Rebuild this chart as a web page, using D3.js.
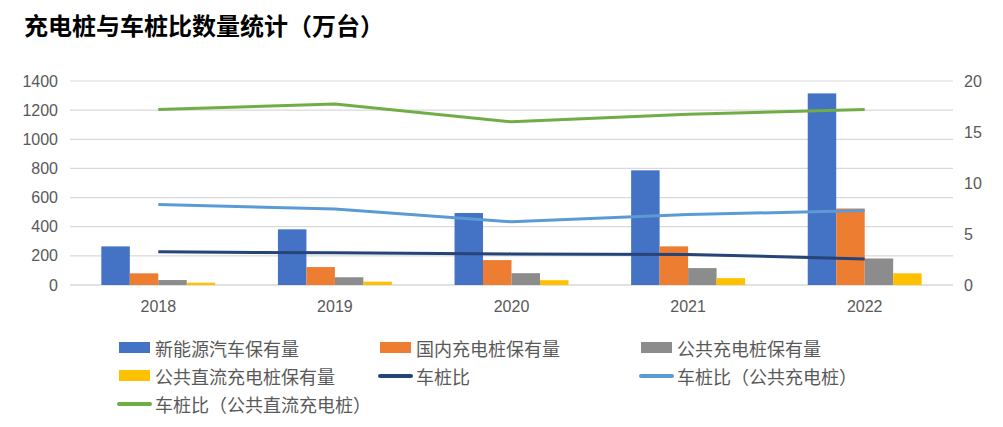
<!DOCTYPE html>
<html><head><meta charset="utf-8">
<script src="https://cdn.jsdelivr.net/npm/d3@7"></script>
<style>
html,body{margin:0;padding:0;background:#fff;}
svg{display:block;}
</style></head>
<body>
<svg id="chart" width="1003" height="427"></svg>
<script>
// ---- data ----
const years = ["2018", "2019", "2020", "2021", "2022"];
const nevStock = [265, 382, 494, 787, 1315];
const domesticPiles = [80, 123, 171, 265, 525];
const publicPiles = [34, 53, 81, 116, 182];
const publicDCPiles = [16, 23, 33, 47, 80];
const ratioAll = [3.25, 3.15, 3.05, 3.0, 2.55];
const ratioPublic = [7.9, 7.45, 6.2, 6.9, 7.3];
const ratioPublicDC = [17.2, 17.75, 16.0, 16.75, 17.2];
const leftTicks = [0, 200, 400, 600, 800, 1000, 1200, 1400];
const rightTicks = [0, 5, 10, 15, 20];
const title = "充电桩与车桩比数量统计（万台）";

const barSeries = [
  {name: "新能源汽车保有量", values: nevStock, color: "#4472C4"},
  {name: "国内充电桩保有量", values: domesticPiles, color: "#ED7D31"},
  {name: "公共充电桩保有量", values: publicPiles, color: "#8C8C8C"},
  {name: "公共直流充电桩保有量", values: publicDCPiles, color: "#FFC000"}
];
const lineSeries = [
  {name: "车桩比", values: ratioAll, color: "#264478"},
  {name: "车桩比（公共充电桩）", values: ratioPublic, color: "#5B9BD5"},
  {name: "车桩比（公共直流充电桩）", values: ratioPublicDC, color: "#70AD47"}
];

const svg = d3.select("#chart");
const cjk = "'Noto Sans CJK SC', 'Noto Sans', sans-serif";
const num = "'Liberation Sans', Arial, sans-serif";
const plot = {left: 70, right: 953, top: 81, bottom: 285};

const x0 = d3.scaleBand().domain(years).range([plot.left, plot.right]).paddingInner(0).paddingOuter(0);
const x1 = d3.scaleBand().domain(barSeries.map(d => d.name)).range([0, x0.bandwidth()]).paddingInner(0).paddingOuter(1.1);
const yL = d3.scaleLinear().domain([0, 1400]).range([plot.bottom, plot.top]);
const yR = d3.scaleLinear().domain([0, 20]).range([plot.bottom, plot.top]);

// title
svg.append("text").attr("x", 24).attr("y", 35)
  .attr("font-family", cjk).attr("font-weight", "bold").attr("font-size", 24)
  .attr("fill", "#000").text(title);

// gridlines
svg.append("g").selectAll("line").data(leftTicks).join("line")
  .attr("x1", plot.left).attr("x2", plot.right)
  .attr("y1", d => yL(d)).attr("y2", d => yL(d))
  .attr("stroke", "#d9d9d9").attr("stroke-width", d => d === 0 ? 1.5 : 1.2);

// left axis
const axL = d3.axisLeft(yL).tickValues(leftTicks).tickFormat(d3.format("d")).tickSize(0).tickPadding(12);
const gL = svg.append("g").attr("transform", `translate(${plot.left},0)`).call(axL);
gL.select(".domain").remove();
gL.selectAll("text").attr("font-family", num).attr("font-size", 16).attr("fill", "#595959");

// right axis
const axR = d3.axisRight(yR).tickValues(rightTicks).tickFormat(d3.format("d")).tickSize(0).tickPadding(11);
const gR = svg.append("g").attr("transform", `translate(${plot.right},0)`).call(axR);
gR.select(".domain").remove();
gR.selectAll("text").attr("font-family", num).attr("font-size", 16).attr("fill", "#595959");

// x axis
const axB = d3.axisBottom(x0).tickSize(0).tickPadding(16);
const gB = svg.append("g").attr("transform", `translate(0,${plot.bottom})`).call(axB);
gB.select(".domain").remove();
gB.selectAll("text").attr("font-family", num).attr("font-size", 16).attr("fill", "#595959");

// bars
const barG = svg.append("g");
barSeries.forEach(s => {
  barG.append("g").selectAll("rect").data(s.values).join("rect")
    .attr("x", (d, i) => x0(years[i]) + x1(s.name))
    .attr("width", x1.bandwidth())
    .attr("y", d => yL(d))
    .attr("height", d => yL(0) - yL(d))
    .attr("fill", s.color);
});

// lines
const lineGen = d3.line()
  .x((d, i) => x0(years[i]) + x0.bandwidth() / 2)
  .y(d => yR(d));
lineSeries.forEach(s => {
  svg.append("path").datum(s.values)
    .attr("d", lineGen).attr("fill", "none")
    .attr("stroke", s.color).attr("stroke-width", 3)
    .attr("stroke-linejoin", "round");
});

// legend
const legendItems = [
  ...barSeries.map(s => ({...s, type: "rect"})),
  ...lineSeries.map(s => ({...s, type: "line"}))
];
const colX = [119, 380, 641];
const rowY = [348, 376, 404];
legendItems.forEach((it, i) => {
  const cx = colX[i % 3], cy = rowY[Math.floor(i / 3)];
  const g = svg.append("g");
  if (it.type === "rect") {
    g.append("rect").attr("x", cx).attr("y", cy - 6).attr("width", 31).attr("height", 11).attr("fill", it.color);
  } else {
    g.append("line").attr("x1", cx).attr("x2", cx + 31).attr("y1", cy).attr("y2", cy)
      .attr("stroke", it.color).attr("stroke-width", 4).attr("stroke-linecap", "round");
  }
  g.append("text").attr("x", cx + 36).attr("y", cy).attr("dominant-baseline", "central")
    .attr("font-family", cjk).attr("font-size", 18).attr("fill", "#595959").text(it.name);
});
</script>
</body></html>
